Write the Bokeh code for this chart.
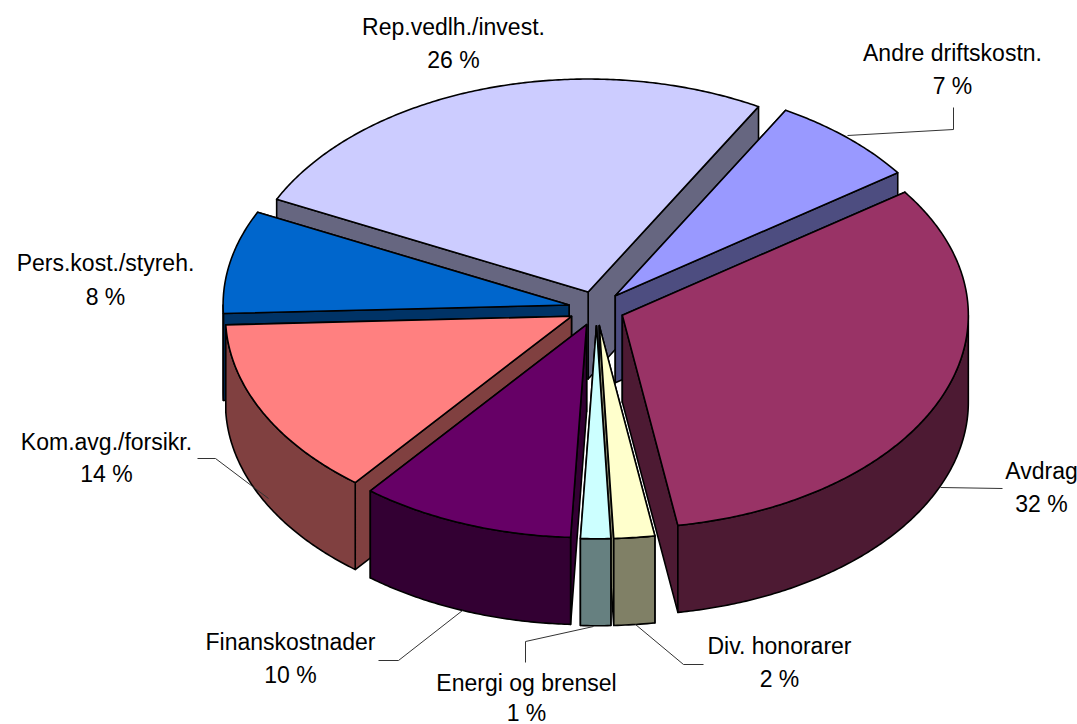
import numpy as np
from bokeh.plotting import figure
from bokeh.models import Range1d
from bokeh.core.properties import value
from bokeh.embed import file_html
from bokeh.resources import INLINE

categories = ["Andre driftskostn.", "Avdrag", "Div. honorarer", "Energi og brensel",
              "Finanskostnader", "Kom.avg./forsikr.", "Pers.kost./styreh.", "Rep.vedlh./invest."]
shares = [7.0, 32.2, 1.9, 1.4, 10.0, 13.6, 7.8, 26.0]
top_colors = ["#9999FF", "#993366", "#FFFFCC", "#CCFFFF", "#660066", "#FF8080", "#0066CC", "#CCCCFF"]
wall_colors = ["#4D4D80", "#4D1A33", "#808066", "#668080", "#330033", "#804040", "#003366", "#666680"]

# layout (page pixels)
label_xy = [(952, 52), (1041, 470), (779, 645), (526, 682), (290, 641), (106, 441), (105, 262), (453, 26)]
pct_xy = [(952, 85), (1041, 503), (779, 678), (526, 712), (290, 674), (106, 473), (105, 296), (453, 59)]
leaders = [
    [(847, 135), (953, 129), (953, 107)],
    [(940, 487), (1002, 488)],
    [(635, 624), (683, 664), (703, 664)],
    [(593, 626), (525, 641), (525, 662)],
    [(462, 610), (398, 660), (378, 660)],
    [(268, 498), (215, 458), (197, 458)],
]
CX, CY, RX, RY, DEPTH, EXPLODE, START = 596, 308, 346, 213, 87, 28, 29.5

p = figure(width=1077, height=724, output_backend="svg", toolbar_location=None,
           x_range=Range1d(0, 1077), y_range=Range1d(724, 0),
           min_border=0, outline_line_color=None, background_fill_color="white")
p.axis.visible = False
p.grid.visible = False

vals = np.array(shares, dtype=float)
ends = START + np.cumsum(vals) / vals.sum() * 360
starts = ends - vals / vals.sum() * 360


def pt(deg, ax, ay, dz=0.0):
    r = np.radians(deg)
    return ax + RX * np.sin(r), ay - RY * np.cos(r) + dz


slices = []
for i in range(len(vals)):
    mid = (starts[i] + ends[i]) / 2
    ax = CX + EXPLODE * np.sin(np.radians(mid))
    ay = CY - EXPLODE * RY / RX * np.cos(np.radians(mid))
    slices.append((ay, i, ax))
slices.sort(key=lambda s: (round(s[0]), s[1]))


def draw(xs, ys, color):
    p.patch(list(xs), list(ys), fill_color=color, line_color="black", line_width=1.6, line_join="round")


for ay, i, ax in slices:
    a, b = starts[i], ends[i]
    # radial cut faces, the one further back first
    faces = sorted([a, b], key=lambda d: pt(d, ax, ay)[1])
    for d in faces:
        rx, ry = pt(d, ax, ay)
        draw([ax, rx, rx, ax], [ay, ry, ry + DEPTH, ay + DEPTH], wall_colors[i])
    # outer wall (only the part facing the viewer)
    lo, hi = max(a, 90.0), min(b, 270.0)
    if hi > lo:
        t = np.linspace(lo, hi, max(int(hi - lo) * 2, 2))
        x, y = pt(t, ax, ay)
        draw(np.r_[x, x[::-1]], np.r_[y, y[::-1] + DEPTH], wall_colors[i])
    # top face
    t = np.linspace(a, b, max(int(b - a) * 2, 2))
    x, y = pt(t, ax, ay)
    draw(np.r_[ax, x], np.r_[ay, y], top_colors[i])

for seg in leaders:
    p.line([q[0] for q in seg], [q[1] for q in seg], line_color="#333333", line_width=1)

pct_labels = [f"{round(v)} %" for v in vals]
for pos, txts in ((label_xy, categories), (pct_xy, pct_labels)):
    p.text([q[0] for q in pos], [q[1] for q in pos], text=txts, text_align="center",
           text_baseline="middle", text_font=value("Liberation Sans"),
           text_font_size="23px", text_color="black")

open("out.html", "w").write(file_html(p, INLINE))
